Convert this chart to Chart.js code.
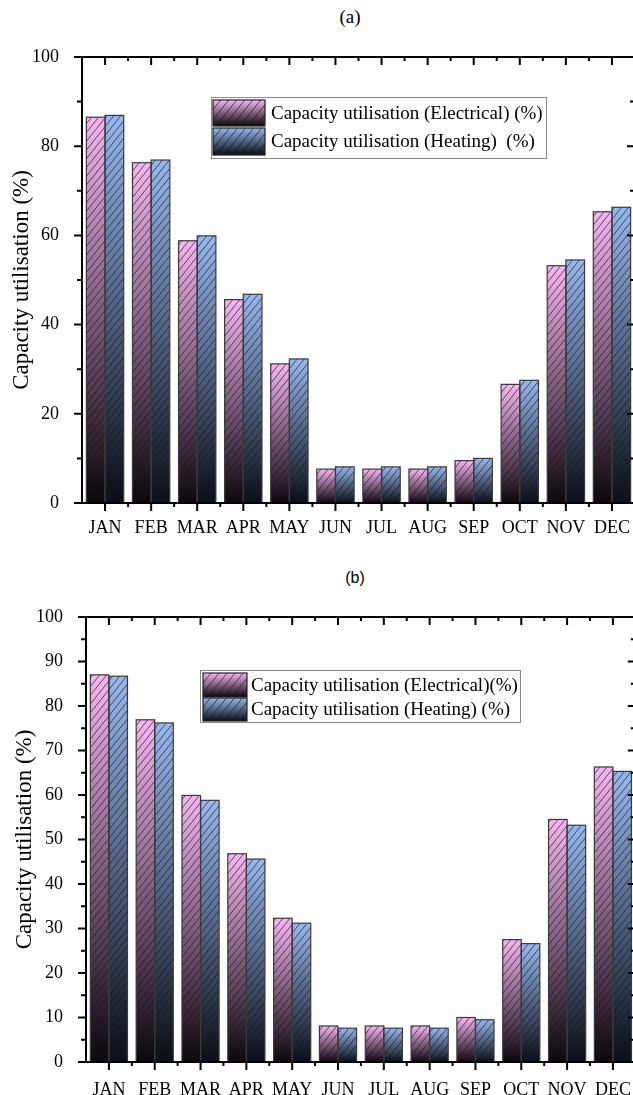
<!DOCTYPE html>
<html>
<head>
<meta charset="utf-8">
<script src="https://cdn.jsdelivr.net/npm/chart.js@4.4.1/dist/chart.umd.min.js"></script>
<style>
  html, body { margin: 0; padding: 0; background: #fff; width: 633px; height: 1095px; overflow: hidden; }
  .panel { position: absolute; left: 0; width: 640px; }
  .tag { position: absolute; color: #000; transform: translate(-50%, -50%); white-space: nowrap; }
  #tagA { font-family: "Liberation Serif", "Times New Roman", serif; font-size: 19px; }
  #tagB { font-family: "Liberation Sans", Arial, sans-serif; font-size: 16px; }
</style>
</head>
<body>
<div class="tag" id="tagA" style="left:350px; top:17px;">(a)</div>
<div class="tag" id="tagB" style="left:355px; top:578px;">(b)</div>
<div class="panel" style="top:0; height:560px;"><canvas id="chartA"></canvas></div>
<div class="panel" style="top:560px; height:535px;"><canvas id="chartB"></canvas></div>
<script>
// Monthly capacity utilisation, two panels (a) and (b)

const months = ['JAN', 'FEB', 'MAR', 'APR', 'MAY', 'JUN', 'JUL', 'AUG', 'SEP', 'OCT', 'NOV', 'DEC'];

// panel (a)
const elecA = [86.5, 76.3, 58.8, 45.6, 31.2, 7.6, 7.6, 7.6, 9.5, 26.6, 53.2, 65.3];
const heatA = [86.9, 76.9, 59.9, 46.8, 32.3, 8.1, 8.1, 8.1, 10.0, 27.5, 54.5, 66.3];
const labelsA = ['Capacity utilisation (Electrical) (%)', 'Capacity utilisation (Heating)  (%)'];

// panel (b)
const elecB = [87.0, 76.9, 59.9, 46.8, 32.3, 8.1, 8.1, 8.1, 10.0, 27.5, 54.5, 66.3];
const heatB = [86.7, 76.2, 58.8, 45.6, 31.2, 7.6, 7.6, 7.6, 9.5, 26.6, 53.2, 65.3];
const labelsB = ['Capacity utilisation (Electrical)(%)', 'Capacity utilisation (Heating) (%)'];

const yMin = 0, yMax = 100;
const stepA = 20, minorA = 10;
const stepB = 10, minorB = 5;

const SERIF = "'Liberation Serif', 'Times New Roman', serif";
const ELEC = ['#f7b6f2', '#0b070b'];
const HEAT = ['#98b8ee', '#0a0e16'];

// per-bar vertical gradient, light on top, near black at the base
function barFill(colors) {
  return (c) => {
    const { ctx, scales } = c.chart;
    if (!scales.y || c.raw == null) return colors[0];
    const y0 = scales.y.getPixelForValue(0);
    const y1 = scales.y.getPixelForValue(c.raw);
    if (!isFinite(y0) || !isFinite(y1) || y0 === y1) return colors[0];
    const g = ctx.createLinearGradient(0, y1, 0, y0);
    g.addColorStop(0, colors[0]);
    g.addColorStop(1, colors[1]);
    return g;
  };
}

function hatch(ctx, x0, y0, x1, y1, gap) {
  ctx.save();
  ctx.beginPath();
  ctx.rect(x0, y0, x1 - x0, y1 - y0);
  ctx.clip();
  ctx.strokeStyle = 'rgba(25,20,30,0.75)';
  ctx.lineWidth = 0.9;
  const run = (y1 - y0) / 1.25;
  let start = x0 - run;
  start -= ((start % gap) + gap) % gap;
  ctx.beginPath();
  for (let x = start; x < x1 + gap; x += gap) {
    ctx.moveTo(x, y1);
    ctx.lineTo(x + run, y0);
  }
  ctx.stroke();
  ctx.restore();
}

const barDecor = {
  id: 'barDecor',
  afterDatasetsDraw(chart) {
    const ctx = chart.ctx;
    chart.data.datasets.forEach((ds, i) => {
      chart.getDatasetMeta(i).data.forEach(el => {
        const { x, y, base, width } = el.getProps(['x', 'y', 'base', 'width'], true);
        const l = x - width / 2;
        hatch(ctx, l, y, l + width, base, 7);
        ctx.strokeStyle = '#3a3a3a';
        ctx.lineWidth = 1.2;
        ctx.strokeRect(l, y, width, base - y);
      });
    });
  }
};

const frame = {
  id: 'frame',
  afterDraw(chart, args, opts) {
    const { ctx, chartArea: a, scales: { x: xs, y: ys } } = chart;
    ctx.save();
    ctx.strokeStyle = '#000';
    ctx.lineWidth = 2;
    ctx.strokeRect(a.left, a.top, a.right - a.left, a.bottom - a.top);
    ctx.beginPath();
    const n = chart.data.labels.length;
    for (let i = 0; i < n; i++) {
      const px = xs.getPixelForValue(i);
      ctx.moveTo(px, a.bottom); ctx.lineTo(px, a.bottom + 8);
      ctx.moveTo(px, a.top); ctx.lineTo(px, a.top + 8);
      if (i < n - 1) {
        const mx = (px + xs.getPixelForValue(i + 1)) / 2;
        ctx.moveTo(mx, a.bottom); ctx.lineTo(mx, a.bottom + 4);
        ctx.moveTo(mx, a.top); ctx.lineTo(mx, a.top + 4);
      }
    }
    for (let v = yMin; v <= yMax; v += opts.minor) {
      const py = ys.getPixelForValue(v);
      const len = v % opts.major === 0 ? 8 : 5;
      ctx.moveTo(a.left, py); ctx.lineTo(a.left - len, py);
      ctx.moveTo(a.right, py); ctx.lineTo(a.right - len, py);
    }
    ctx.stroke();

    // legend
    const L = opts.legend;
    ctx.fillStyle = '#fff';
    ctx.fillRect(L.box[0], L.box[1], L.box[2], L.box[3]);
    ctx.strokeStyle = '#8a8a8a';
    ctx.lineWidth = 1;
    ctx.strokeRect(L.box[0] + 0.5, L.box[1] + 0.5, L.box[2], L.box[3]);
    [ELEC, HEAT].forEach((cols, k) => {
      const [sx, sy, sw, sh] = L.rows[k];
      const g = ctx.createLinearGradient(0, sy, 0, sy + sh);
      g.addColorStop(0, cols[0]);
      g.addColorStop(1, cols[1]);
      ctx.fillStyle = g;
      ctx.fillRect(sx, sy, sw, sh);
      hatch(ctx, sx, sy, sx + sw, sy + sh, 8);
      ctx.strokeStyle = '#222';
      ctx.lineWidth = 1.2;
      ctx.strokeRect(sx, sy, sw, sh);
      ctx.fillStyle = '#000';
      ctx.font = L.font + 'px ' + SERIF;
      ctx.textBaseline = 'middle';
      ctx.textAlign = 'left';
      ctx.fillText(L.labels[k], L.textX, sy + sh / 2 + 1);
    });
    ctx.restore();
  }
};

function makePanel(id, elec, heat, step, minor, geo) {
  return new Chart(document.getElementById(id), {
    type: 'bar',
    data: {
      labels: months,
      datasets: [
        { label: geo.legend.labels[0], data: elec, backgroundColor: barFill(ELEC), borderWidth: 0 },
        { label: geo.legend.labels[1], data: heat, backgroundColor: barFill(HEAT), borderWidth: 0 }
      ]
    },
    options: {
      responsive: true,
      maintainAspectRatio: false,
      animation: false,
      events: [],
      datasets: { bar: { categoryPercentage: 0.81, barPercentage: 1.0 } },
      layout: { padding: geo.padding },
      plugins: {
        legend: { display: false },
        tooltip: { enabled: false },
        frame: { major: step, minor: minor, legend: geo.legend }
      },
      scales: {
        x: {
          offset: true,
          grid: { display: false },
          border: { display: false },
          ticks: { color: '#000', font: { family: SERIF, size: 18 }, padding: geo.xPad, autoSkip: false, maxRotation: 0 },
          afterFit: s => { s.height = geo.xH; }
        },
        y: {
          min: yMin,
          max: yMax,
          grid: { display: false },
          border: { display: false },
          ticks: { stepSize: step, color: '#000', font: { family: SERIF, size: 18 }, padding: 15 },
          title: {
            display: true,
            text: 'Capacity utilisation (%)',
            color: '#000',
            font: { family: SERIF, size: 23 },
            padding: { top: geo.titleTop, bottom: 0 }
          },
          afterFit: s => { s.width = geo.yW; }
        }
      }
    },
    plugins: [barDecor, frame]
  });
}

makePanel('chartA', elecA, heatA, stepA, minorA, {
  padding: { top: 57, left: 0, right: 5, bottom: 0 },
  xH: 57, yW: 82, xPad: 6, titleTop: 8,
  legend: { box: [211, 97, 335, 61], rows: [[213, 100, 52, 26], [213, 128, 52, 27]], textX: 271, font: 19, labels: labelsA }
});

makePanel('chartB', elecB, heatB, stepB, minorB, {
  padding: { top: 57, left: 0, right: 2, bottom: 0 },
  xH: 33, yW: 86, xPad: 9, titleTop: 11,
  legend: { box: [200, 110, 320, 52], rows: [[203, 113, 44, 24], [203, 138, 44, 23]], textX: 251, font: 19, labels: labelsB }
});
</script>
</body>
</html>
